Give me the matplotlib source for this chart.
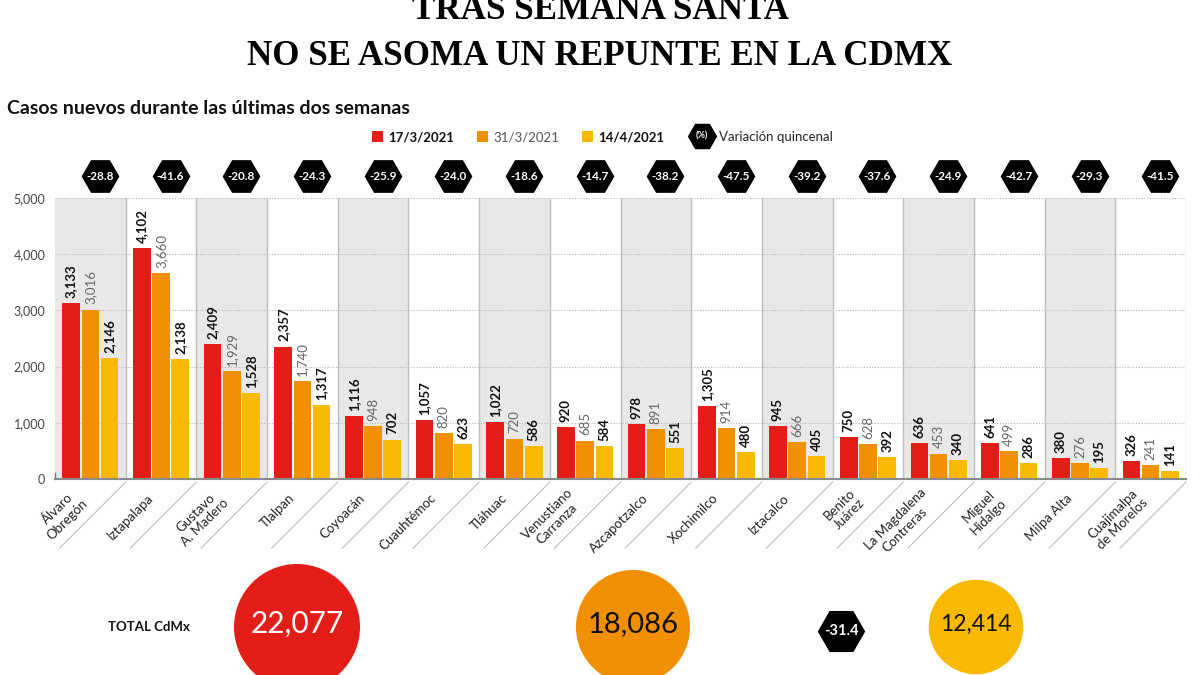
import numpy as np
import matplotlib
matplotlib.use("Agg")
import matplotlib.pyplot as plt
from matplotlib.patches import Circle, Rectangle

plt.rcParams['font.family'] = ['Lato', 'DejaVu Sans']

# datos: casos nuevos por alcaldia
districts = ["Álvaro\nObregón", "Iztapalapa", "Gustavo\nA. Madero", "Tlalpan", "Coyoacán",
             "Cuauhtémoc", "Tláhuac", "Venustiano\nCarranza", "Azcapotzalco", "Xochimilco",
             "Iztacalco", "Benito\nJuárez", "La Magdalena\nContreras", "Miguel\nHidalgo",
             "Milpa Alta", "Cuajimalpa\nde Morelos"]
cases_mar17 = [3133, 4102, 2409, 2357, 1116, 1057, 1022, 920, 978, 1305, 945, 750, 636, 641, 380, 326]
cases_mar31 = [3016, 3660, 1929, 1740, 948, 820, 720, 685, 891, 914, 666, 628, 453, 499, 276, 241]
cases_apr14 = [2146, 2138, 1528, 1317, 702, 623, 586, 584, 551, 480, 405, 392, 340, 286, 195, 141]
variation = [-28.8, -41.6, -20.8, -24.3, -25.9, -24.0, -18.6, -14.7, -38.2, -47.5,
             -39.2, -37.6, -24.9, -42.7, -29.3, -41.5]
dates = ["17/3/2021", "31/3/2021", "14/4/2021"]
totals = [22077, 18086, 12414]
total_variation = -31.4

RED, ORANGE, YELLOW = '#E31E18', '#F08F00', '#F9B900'
SHADE = '#E8E8E6'

W, H = 1200, 675
fig = plt.figure(figsize=(12, 6.75), dpi=100)

# main chart, placed in pixel terms
ax = fig.add_axes([55 / W, 1 - 479 / H, (1186 - 55) / W, (479 - 198) / H])
n = len(districts)
ax.set_xlim(0, n)
ax.set_ylim(0, 5000)
xc = np.arange(n) + 0.5

for i in range(0, n, 2):
    ax.axvspan(i, i + 1, color=SHADE, lw=0, zorder=0)
for b in range(1, n + 1):
    ax.axvline(b, color='#BDBDBD', lw=1, zorder=1)

ax.set_axisbelow(True)
ax.yaxis.grid(True, linestyle=(0, (1, 1.5)), color='#B5B5B5', lw=0.8)

bw, pitch = 0.25, 0.272
series = [(cases_mar17, RED, 'bold', '#111111'),
          (cases_mar31, ORANGE, 'normal', '#666666'),
          (cases_apr14, YELLOW, 'bold', '#111111')]
for k, (vals, col, wt, tcol) in enumerate(series):
    xs = xc + (k - 1) * pitch
    ax.bar(xs, vals, width=bw, color=col, zorder=2)
    for xx, v in zip(xs, vals):
        ax.text(xx, v + 90, f"{v:,}", rotation=90, ha='center', va='bottom',
                fontsize=9.5, fontweight=wt, color=tcol, zorder=3)

for s in ['top', 'left', 'right']:
    ax.spines[s].set_visible(False)
ax.spines['bottom'].set_color('#8A8A8A')
ax.spines['bottom'].set_linewidth(1.5)
ax.plot([0, 0], [0, 100], color='#777777', lw=1, clip_on=False)

ticks = list(range(0, 5001, 1000))
ax.set_yticks(ticks)
ax.set_yticklabels([f"{t:,}" for t in ticks])
ax.tick_params(axis='y', length=0, pad=7, labelsize=9, labelcolor='#444444')
ax.set_xticks([])

trans = ax.get_xaxis_transform()
# nombres rotados y separadores diagonales
for i, name in enumerate(districts):
    ax.text(xc[i] - 0.14, -0.06, name, transform=trans, rotation=45,
            rotation_mode='anchor', ha='right', va='center', multialignment='center',
            fontsize=9.5, color='#222222', clip_on=False)
for b in range(1, n + 1):
    ax.plot([b, b - 0.934], [-0.011, -0.246], transform=trans, color='#BDBDBD',
            lw=0.8, clip_on=False)

# hexagonos de variacion quincenal
hx = xc + 0.135
ax.plot(hx, [1.078] * n, ls='none', marker='H', ms=26, color='black',
        transform=trans, clip_on=False)
for xx, v in zip(hx, variation):
    ax.text(xx, 1.078, f"{v:.1f}", transform=trans, ha='center', va='center',
            color='white', fontsize=8.5, fontweight='bold', clip_on=False)

# overlay in pixel coords for titles, legend and totals
ov = fig.add_axes([0, 0, 1, 1])
ov.set_xlim(0, W)
ov.set_ylim(H, 0)
ov.axis('off')

title_font = dict(family=['Liberation Serif', 'DejaVu Serif'], fontweight='bold',
                  fontsize=25.2, color='black', ha='center', va='baseline')
ov.text(600, 19, "TRAS SEMANA SANTA", **title_font)
ov.text(600, 65, "NO SE ASOMA UN REPUNTE EN LA CDMX", **title_font)

ov.text(7, 114, "Casos nuevos durante las últimas dos semanas", fontsize=14,
        fontweight='bold', color='#111111', va='baseline')

# leyenda
leg_x = [372, 477, 582]
for lx, col, lab, wt, tcol in zip(leg_x, [RED, ORANGE, YELLOW], dates,
                                  ['bold', 'normal', 'bold'], ['#111111', '#555555', '#111111']):
    ov.add_patch(Rectangle((lx, 131), 11, 11, color=col, lw=0))
    ov.text(lx + 16, 137, lab, fontsize=9.5, fontweight=wt, color=tcol, va='center')
ov.plot(702, 136, marker='H', ms=20, color='black')
ov.text(702, 136, "(%)", color='white', fontsize=6.5, ha='center', va='center', fontweight='bold')
ov.text(719, 137, "Variación quincenal", fontsize=9.5, color='#222222', va='center')

# totales
ov.text(108, 627, "TOTAL CdMx", fontsize=9.5, fontweight='bold', color='#111111', va='center')
cx = [297, 633, 976]
r0 = 63
for x0, t, col, tcol, fs in zip(cx, totals, [RED, ORANGE, YELLOW],
                                ['white', '#111111', '#111111'], [21.5, 21, 16.5]):
    r = r0 * np.sqrt(t / totals[0])
    ov.add_patch(Circle((x0, 627), r, color=col, lw=0))
    ov.text(x0, 624, f"{t:,}", ha='center', va='center', fontsize=fs, color=tcol)
ov.plot(841, 631, marker='H', ms=33, color='black')
ov.text(841, 631, f"{total_variation:.1f}", ha='center', va='center', fontsize=10.5,
        color='white', fontweight='bold')

fig.savefig('out.png', dpi=100)
